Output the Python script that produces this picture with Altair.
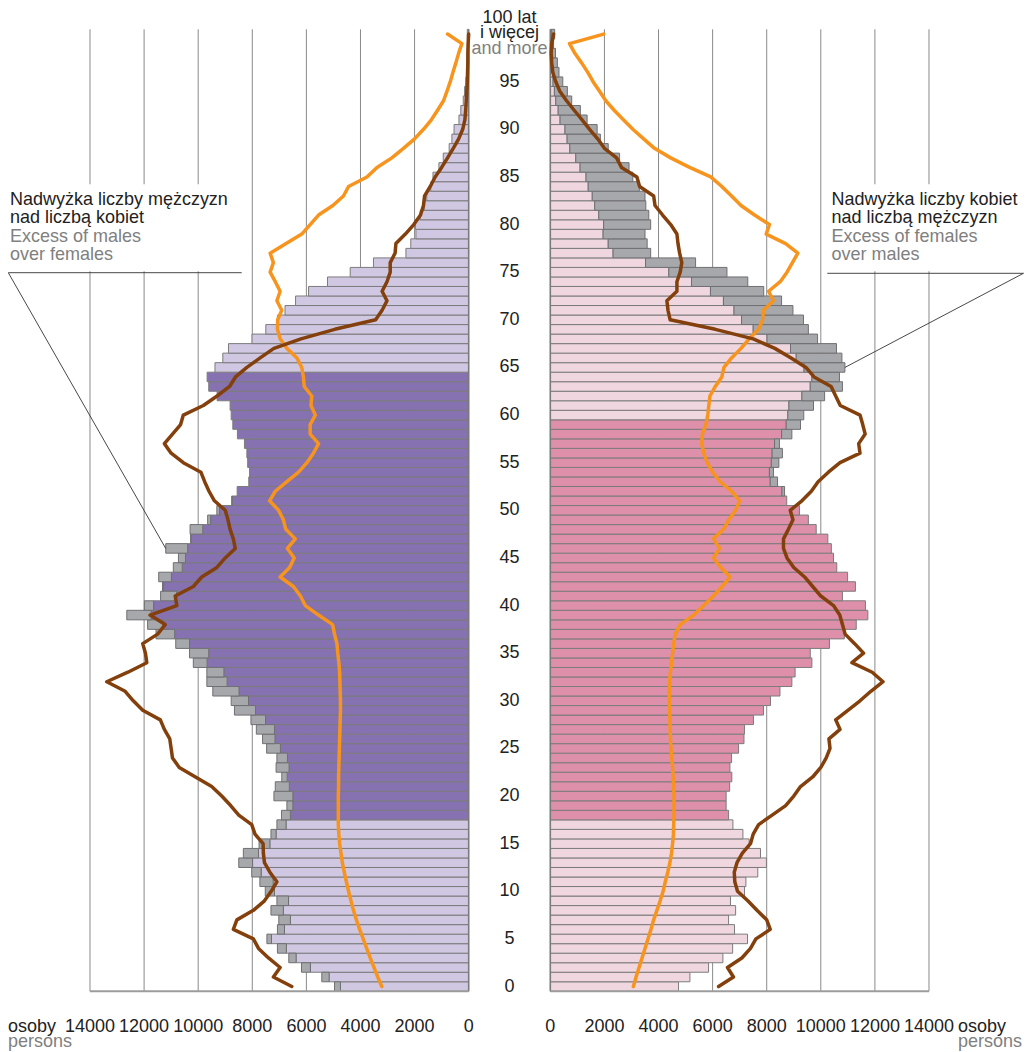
import altair as alt
import pandas as pd

# ---------------- data (persons) ----------------
AGES = list(range(101))

MALES = [4960, 5430, 6180, 6650, 7070, 7460, 7070, 7020, 7310, 7090,
         7520, 7720, 8020, 8500, 8330, 7750, 7310, 7090, 6920, 6720,
         7200, 7150, 6910, 7120, 7090, 7470, 7620, 7850, 8050, 8660,
         8780, 9460, 9680, 9680, 10180, 10320, 10830, 11560, 11870, 12640,
         11990, 11390, 11320, 11460, 10920, 10730, 11200, 10280, 10300, 9650,
         9310, 8760, 8560, 8130, 8100, 8170, 8200, 8290, 8550, 8720,
         8780, 8820, 9300, 9610, 9670, 9380, 9090, 8880, 8010, 7500,
         7070, 6790, 6400, 5920, 5220, 4380, 3520, 2320, 2140, 1950,
         1970, 1790, 1640, 1550, 1400, 1320, 1100, 940, 720, 620,
         540, 360, 290, 200, 150, 100, 80, 60, 50, 30,
         50]

FEMALES = [4740, 5160, 5850, 6380, 6740, 7290, 6810, 6590, 6850, 6660,
           7180, 7230, 7670, 7990, 7770, 7350, 7120, 6750, 6590, 6500,
           6500, 6630, 6710, 6640, 6700, 6960, 7160, 7180, 7510, 7880,
           8140, 8490, 8930, 9050, 9670, 9610, 10320, 10870, 11310, 11740,
           11650, 10800, 11280, 10990, 10590, 10470, 10390, 10260, 9830, 9540,
           9210, 8740, 8660, 8400, 8250, 8450, 8580, 8470, 8930, 9250,
           9370, 9730, 10140, 10800, 10690, 10890, 10780, 10580, 9880, 9540,
           9360, 8970, 8550, 7890, 7300, 6530, 5370, 3710, 3580, 3500,
           3710, 3640, 3530, 3500, 3290, 3050, 2910, 2560, 2140, 1850,
           1730, 1360, 1110, 790, 630, 460, 320, 260, 190, 120,
           160]

MALES_ORANGE = [3210, 3360, 3500, 3640, 3770, 3900, 4030, 4150, 4260, 4350,
                4440, 4520, 4600, 4670, 4720, 4770, 4800, 4820, 4820, 4820,
                4820, 4810, 4810, 4800, 4790, 4780, 4770, 4760, 4750, 4740,
                4740, 4750, 4760, 4770, 4800, 4840, 4870, 4960, 5030, 5550,
                6040, 6220, 6480, 6970, 6620, 6450, 6700, 6410, 6760, 6850,
                7030, 7360, 7150, 6720, 6290, 5980, 5740, 5550, 5860, 5860,
                5670, 5830, 5800, 6080, 6110, 6170, 6350, 6720, 6970, 7070,
                7060, 6910, 7090, 6970, 7150, 7340, 7220, 7340, 6750, 6170,
                5860, 5550, 5020, 4630, 4440, 3760, 3390, 2840, 2410, 2000,
                1670, 1380, 1150, 930, 800, 680, 580, 470, 370, 250,
                780]

MALES_BROWN = [6540, 7220, 6970, 7400, 7770, 7960, 8700, 8570, 7960, 7550,
               7300, 7090, 7350, 7550, 7590, 7600, 7900, 8020, 8500, 8800,
               9130, 9500, 10100, 10700, 10950, 11000, 11050, 11250, 11400, 12050,
               12400, 12700, 13380, 12600, 11900, 11950, 12050, 11500, 11220, 11780,
               10790, 10850, 10180, 9870, 9310, 9000, 8630, 8700, 8820, 8900,
               9000, 9400, 9600, 9760, 9900, 10550, 11000, 11250, 10950, 10650,
               10550, 9810, 9300, 8840, 8620, 8200, 7710, 7200, 6200, 4950,
               3440, 3200, 3020, 3200, 3020, 2900, 2900, 2720, 2690, 2340,
               2030, 1780, 1670, 1630, 1420, 1240, 1000, 780, 570, 370,
               220, 140, 110, 90, 70, 50, 40, 30, 30, 20,
               0]

FEMALES_ORANGE = [3070, 3170, 3280, 3390, 3500, 3610, 3720, 3820, 3940, 4060,
                  4170, 4250, 4340, 4420, 4480, 4520, 4550, 4560, 4570, 4570,
                  4570, 4560, 4540, 4520, 4490, 4460, 4440, 4430, 4420, 4410,
                  4400, 4400, 4410, 4440, 4480, 4520, 4560, 4620, 4800, 5300,
                  5670, 6030, 6350, 6650, 6300, 6030, 6260, 6030, 6400, 6600,
                  6850, 7000, 6700, 6280, 6000, 5800, 5670, 5600, 5620, 5750,
                  5820, 5860, 5900, 6100, 6340, 6420, 6700, 7050, 7350, 7700,
                  7850, 7880, 8250, 8070, 8500, 8750, 8950, 9150, 8700, 7980,
                  8100, 7550, 7050, 6700, 6340, 5930, 5150, 4450, 3850, 3450,
                  3050, 2700, 2360, 2050, 1820, 1580, 1380, 1150, 900, 710,
                  1970]

FEMALES_BROWN = [6220, 6770, 6550, 7080, 7400, 7600, 8130, 8000, 7640, 7300,
                 6920, 6820, 6800, 6900, 7100, 7400, 7500, 7700, 8200, 8700,
                 9000, 9250, 9700, 10000, 10200, 10340, 10300, 10710, 10550, 11000,
                 11450, 11850, 12300, 11900, 11150, 11580, 11250, 10900, 10800, 10700,
                 10470, 10000, 9700, 9400, 9000, 8750, 8620, 8620, 8800, 8970,
                 8870, 9300, 9650, 9900, 10280, 10710, 11450, 11400, 11640, 11550,
                 11450, 10720, 10550, 10380, 9750, 9450, 8900, 8300, 7500, 6100,
                 4430, 4350, 4310, 4680, 4680, 4800, 4860, 4780, 4720, 4680,
                 4450, 4150, 3870, 3820, 3300, 3200, 2630, 2450, 2000, 1750,
                 1450, 1170, 880, 600, 350, 200, 90, 50, 30, 50,
                 120]

TICKS = [0, 2000, 4000, 6000, 8000, 10000, 12000, 14000]
AGE_LABELS = list(range(0, 100, 5))

# ---------------- layout constants ----------------
G = 1510          # half of the central gap (age-label column), in persons units
XMAX = 14000
W, H = 839, 962
FONT = "Liberation Sans"

C_M_DARK, C_M_LIGHT = "#8671B1", "#D0C7E2"
C_F_DARK, C_F_LIGHT = "#DE8FA9", "#EFD6DF"
C_GREY = "#A7A8AB"
C_ORANGE, C_BROWN = "#F7941E", "#83400C"

xs = alt.Scale(domain=[-(G + XMAX), G + XMAX], nice=False, zero=False)
ys = alt.Scale(domain=[-0.5, 100.5], nice=False, zero=False)

# ---------------- tables ----------------
common, excess = [], []
for a, m, f in zip(AGES, MALES, FEMALES):
    c = min(m, f)
    common.append(dict(age=a, x=-G, x2=-(G + c), y=a - 0.5, y2=a + 0.5,
                       kind="m_dark" if 18 <= a <= 64 else "m_light"))
    common.append(dict(age=a, x=G, x2=G + c, y=a - 0.5, y2=a + 0.5,
                       kind="f_dark" if 18 <= a <= 59 else "f_light"))
    if m > f:
        excess.append(dict(age=a, x=-(G + f), x2=-(G + m), y=a - 0.5, y2=a + 0.5))
    if f > m:
        excess.append(dict(age=a, x=G + m, x2=G + f, y=a - 0.5, y2=a + 0.5))
common = pd.DataFrame(common)
excess = pd.DataFrame(excess)


def side_line(values, sign):
    return pd.DataFrame({"age": AGES, "x": [sign * (G + v) for v in values]})


grid = pd.DataFrame({"x": [-(G + t) for t in TICKS if t > 0] + [G + t for t in TICKS if t > 0]})
zeros = pd.DataFrame({"x": [-G, G]})
bottoms = pd.DataFrame({"x": [-G, G], "x2": [-(G + XMAX), G + XMAX]})
ticklab = pd.DataFrame({"x": [-(G + t) for t in TICKS] + [G + t for t in TICKS],
                        "label": [str(t) for t in TICKS] * 2})
agelab = pd.DataFrame({"age": AGE_LABELS, "label": [str(a) for a in AGE_LABELS]})
one = pd.DataFrame({"k": [0]})

# ---------------- layers ----------------
grid_l = alt.Chart(grid).mark_rule(color="#8a8a8a", strokeWidth=1).encode(
    x=alt.X("x:Q", scale=xs, axis=None), y=alt.value(0), y2=alt.value(H))

mask_l = alt.Chart(one).mark_rect(fill="white").encode(
    x=alt.value(-5), x2=alt.value(156), y=alt.value(155), y2=alt.value(242))
mask_r = alt.Chart(one).mark_rect(fill="white").encode(
    x=alt.value(736), x2=alt.value(846), y=alt.value(155), y2=alt.value(242))

bars = alt.Chart(common).mark_rect(stroke="#7b7b7b", strokeWidth=1).encode(
    x=alt.X("x:Q", scale=xs, axis=None), x2="x2:Q",
    y=alt.Y("y:Q", scale=ys, axis=None), y2="y2:Q",
    fill=alt.Fill("kind:N", legend=None,
                  scale=alt.Scale(domain=["m_dark", "m_light", "f_dark", "f_light"],
                                  range=[C_M_DARK, C_M_LIGHT, C_F_DARK, C_F_LIGHT])))

exc = alt.Chart(excess).mark_rect(fill=C_GREY, stroke="#6e6f72", strokeWidth=1).encode(
    x=alt.X("x:Q", scale=xs, axis=None), x2="x2:Q",
    y=alt.Y("y:Q", scale=ys, axis=None), y2="y2:Q")

zero_l = alt.Chart(zeros).mark_rule(color="#7a7a7a", strokeWidth=1.5).encode(
    x=alt.X("x:Q", scale=xs, axis=None), y=alt.value(0), y2=alt.value(H))

bottom_l = alt.Chart(bottoms).mark_rule(color="#9c9c9c", strokeWidth=2).encode(
    x=alt.X("x:Q", scale=xs, axis=None), x2="x2:Q", y=alt.value(H))


def line_layer(df, color):
    return alt.Chart(df).mark_line(color=color, strokeWidth=3.5, strokeCap="round",
                                   strokeJoin="round").encode(
        x=alt.X("x:Q", scale=xs, axis=None),
        y=alt.Y("age:Q", scale=ys, axis=None),
        order="age:Q")


lines = [
    line_layer(side_line(MALES_ORANGE, -1), C_ORANGE),
    line_layer(side_line(FEMALES_ORANGE, 1), C_ORANGE),
    line_layer(side_line(MALES_BROWN, -1), C_BROWN),
    line_layer(side_line(FEMALES_BROWN, 1), C_BROWN),
]

LAB_Y = 1002.4
PERS_Y = 1017.4

ticks_t = alt.Chart(ticklab).mark_text(font=FONT, fontSize=18, color="#222222",
                                       baseline="alphabetic", align="center").encode(
    x=alt.X("x:Q", scale=xs, axis=None), y=alt.value(LAB_Y), text="label:N")

ages_t = alt.Chart(agelab).mark_text(font=FONT, fontSize=18, color="#222222",
                                     baseline="middle", align="center").encode(
    x=alt.datum(0), y=alt.Y("age:Q", scale=ys, axis=None), text="label:N")


def txt(s, x, y, color="#222222", align="left", datum_x=False):
    xenc = alt.datum(x) if datum_x else alt.value(x)
    return alt.Chart(one).mark_text(font=FONT, fontSize=18, color=color,
                                    baseline="alphabetic", align=align).encode(
        x=xenc, y=alt.value(y), text=alt.value(s))


GREY_TXT = "#808080"
texts = [
    txt("100 lat", 0, -6, align="center", datum_x=True),
    txt("i więcej", 0, 9, align="center", datum_x=True),
    txt("and more", 0, 25, color=GREY_TXT, align="center", datum_x=True),
    txt("Nadwyżka liczby mężczyzn", -80, 175.7),
    txt("nad liczbą kobiet", -80, 194),
    txt("Excess of males", -80, 212.4, color=GREY_TXT),
    txt("over females", -80, 230.7, color=GREY_TXT),
    txt("Nadwyżka liczby kobiet", 741.5, 175.7),
    txt("nad liczbą mężczyzn", 741.5, 194),
    txt("Excess of females", 741.5, 212.4, color=GREY_TXT),
    txt("over males", 741.5, 230.7, color=GREY_TXT),
    txt("osoby", -82, LAB_Y),
    txt("persons", -82, PERS_Y, color=GREY_TXT),
    txt("osoby", 868, LAB_Y),
    txt("persons", 868, PERS_Y, color=GREY_TXT),
]


def seg(x1, y1, x2, y2):
    return alt.Chart(one).mark_rule(color="#333333", strokeWidth=0.9).encode(
        x=alt.value(x1), y=alt.value(y1), x2=alt.value(x2), y2=alt.value(y2))


pointers = [
    seg(-81.7, 243.4, 151.7, 243.4),
    seg(-81.7, 243.4, 75.7, 519.1),
    seg(737.3, 244, 933.5, 244),
    seg(933.5, 244, 755, 338.1),
]

chart = alt.layer(
    grid_l, mask_l, mask_r, bars, exc, zero_l, bottom_l, *lines,
    ticks_t, ages_t, *texts, *pointers
).properties(
    width=W, height=H,
    padding={"left": 82, "top": 21.3, "right": 95, "bottom": 60},
    autosize=alt.AutoSizeParams(type="none"),
).configure_view(stroke=None)

chart.save("out.html", embed_options={"renderer": "svg", "actions": False})
